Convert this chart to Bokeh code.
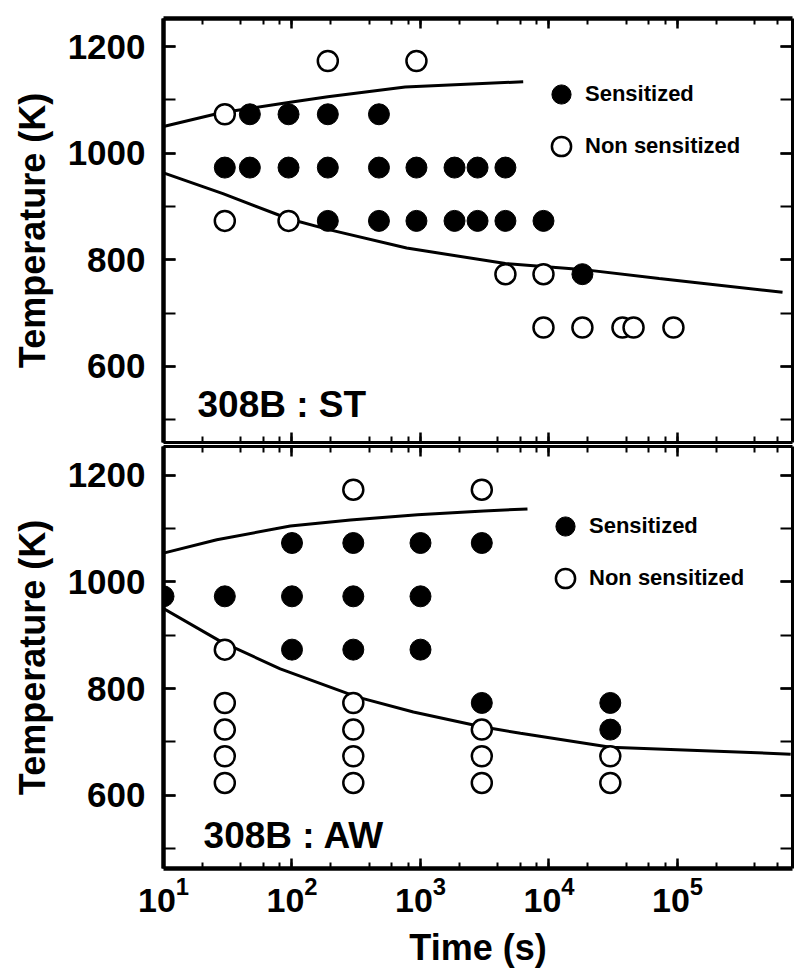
from bokeh.plotting import figure
from bokeh.models import (LinearAxis, LogAxis, Range1d, SingleIntervalTicker, LogTicker,
                          Label, Legend, LegendItem)
from bokeh.layouts import column
from bokeh.embed import file_html
from bokeh.resources import INLINE

FONT = "Liberation Sans"

# ---------------- data ----------------
# 308B : ST  (time in s, temperature in K)
st_sens_t = [47, 94, 190, 475,
             30, 47, 94, 190, 475, 930, 1840, 2780, 4580,
             190, 475, 930, 1840, 2780, 4580, 9060,
             18200]
st_sens_T = [1073, 1073, 1073, 1073,
             973, 973, 973, 973, 973, 973, 973, 973, 973,
             873, 873, 873, 873, 873, 873, 873,
             773]
st_non_t = [190, 930, 30, 30, 94, 4580, 9060, 9060, 18200, 37300, 45500, 93000]
st_non_T = [1173, 1173, 1073, 873, 873, 773, 773, 673, 673, 673, 673, 673]

st_upper_t = [10, 28, 94, 190, 760, 6300]
st_upper_T = [1050, 1076, 1095, 1106, 1124, 1134]
st_lower_t = [10, 29, 94, 190, 780, 4580, 17900, 72000, 657000]
st_lower_T = [963, 924, 877, 857, 822, 793, 782, 765, 739]

# 308B : AW
aw_sens_t = [100, 300, 1000, 3000,
             10, 30, 100, 300, 1000,
             100, 300, 1000,
             3000, 30000,
             30000]
aw_sens_T = [1073, 1073, 1073, 1073,
             973, 973, 973, 973, 973,
             873, 873, 873,
             773, 773,
             723]
aw_non_t = [300, 3000,
            30,
            30, 300,
            30, 300, 3000,
            30, 300, 3000, 30000,
            30, 300, 3000, 30000]
aw_non_T = [1173, 1173,
            873,
            773, 773,
            723, 723, 723,
            673, 673, 673, 673,
            623, 623, 623, 623]

aw_upper_t = [10, 26, 97, 285, 950, 3100, 6800]
aw_upper_T = [1054, 1079, 1105, 1116, 1126, 1133, 1137]
aw_lower_t = [10, 28, 81, 324, 880, 2930, 6000, 30100, 760000]
aw_lower_T = [950, 888, 837, 784, 756, 729, 716, 690, 677]

legend_labels = ["Sensitized", "Non sensitized"]
panel_titles = ["308B : ST", "308B : AW"]
y_title = "Temperature (K)"
x_title = "Time (s)"

X_START, X_END = 10, 10 ** 5.895


def style_axis(ax, lw, tick_in, minor_in, labels):
    ax.axis_line_width = lw
    ax.axis_line_color = "black"
    ax.major_tick_in = tick_in
    ax.major_tick_out = 0
    ax.minor_tick_in = minor_in
    ax.minor_tick_out = 0
    ax.major_tick_line_width = 2.5
    ax.minor_tick_line_width = 2
    ax.major_tick_line_color = "black"
    ax.minor_tick_line_color = "black"
    if not labels:
        ax.major_label_text_font_size = "1px"
        ax.major_label_text_color = None
        ax.major_label_standoff = 0
    else:
        ax.major_label_text_font = FONT
        ax.major_label_text_font_style = "bold"
        ax.major_label_text_color = "black"


def make_panel(height, b_top, b_bottom, y0, y1, x_labels, top_lw, bottom_lw):
    p = figure(width=794, height=height, x_axis_type="log",
               x_range=Range1d(X_START, X_END), y_range=Range1d(y0, y1),
               output_backend="svg", toolbar_location=None,
               min_border_left=163, min_border_right=2,
               min_border_top=b_top, min_border_bottom=b_bottom)
    p.grid.visible = False
    p.outline_line_color = None
    p.background_fill_color = "white"
    p.border_fill_color = "white"

    # left axis
    ya = p.yaxis[0]
    ya.ticker = SingleIntervalTicker(interval=200, num_minor_ticks=2)
    style_axis(ya, 4.5, 12, 12, True)
    ya.major_label_text_font_size = "35px"
    ya.major_label_standoff = 18
    ya.axis_label = y_title
    ya.axis_label_text_font = FONT
    ya.axis_label_text_font_style = "bold"
    ya.axis_label_text_font_size = "36px"
    ya.axis_label_text_color = "black"
    ya.axis_label_standoff = 12

    # right axis
    ra = LinearAxis(ticker=SingleIntervalTicker(interval=200, num_minor_ticks=2))
    style_axis(ra, 3, 12, 12, False)
    p.add_layout(ra, "right")

    # bottom axis
    xa = p.xaxis[0]
    xa.ticker = LogTicker()
    style_axis(xa, bottom_lw, 10, 6, x_labels)
    if x_labels:
        xa.major_label_text_font_size = "34px"
        xa.major_label_standoff = 8
        xa.axis_label = x_title
        xa.axis_label_text_font = FONT
        xa.axis_label_text_font_style = "bold"
        xa.axis_label_text_font_size = "36px"
        xa.axis_label_text_color = "black"
        xa.axis_label_standoff = 12

    # top axis
    ta = LogAxis(ticker=LogTicker())
    style_axis(ta, top_lw, 10, 6, False)
    p.add_layout(ta, "above")
    return p


def add_data(p, up_t, up_T, lo_t, lo_T, s_t, s_T, n_t, n_T, title, tx, ty, leg_loc):
    p.line(up_t, up_T, line_color="black", line_width=3)
    p.line(lo_t, lo_T, line_color="black", line_width=3)
    rs = p.scatter(x=s_t, y=s_T, marker="circle", size=21, fill_color="black",
                   line_color="black", line_width=1)
    rn = p.scatter(x=n_t, y=n_T, marker="circle", size=20, fill_color="white",
                   line_color="black", line_width=2.5)
    leg = Legend(items=[LegendItem(label=legend_labels[0], renderers=[rs]),
                        LegendItem(label=legend_labels[1], renderers=[rn])],
                 location=leg_loc, orientation="vertical",
                 glyph_width=48, glyph_height=52, spacing=0, padding=0, margin=0,
                 label_standoff=0,
                 label_text_font=FONT, label_text_font_style="bold",
                 label_text_font_size="22px", label_text_color="black",
                 border_line_color=None, background_fill_alpha=0)
    p.add_layout(leg)
    p.add_layout(Label(x=tx, y=ty, text=title, text_font=FONT, text_font_style="bold",
                       text_font_size="37px", text_color="black",
                       text_align="left", text_baseline="alphabetic"))


p1 = make_panel(444, 18, 2, 457.2, 1252.7, False, 4.5, 3)
add_data(p1, st_upper_t, st_upper_T, st_lower_t, st_lower_T,
         st_sens_t, st_sens_T, st_non_t, st_non_T, panel_titles[0], 18.4, 528, (374, 270))

p2 = make_panel(533, 2, 109, 462.5, 1254, True, 3, 4.5)
add_data(p2, aw_upper_t, aw_upper_T, aw_lower_t, aw_lower_T,
         aw_sens_t, aw_sens_T, aw_non_t, aw_non_T, panel_titles[1], 20.5, 524, (378, 264))

layout = column(p1, p2, spacing=0)
open("out.html", "w").write(file_html(layout, INLINE))
